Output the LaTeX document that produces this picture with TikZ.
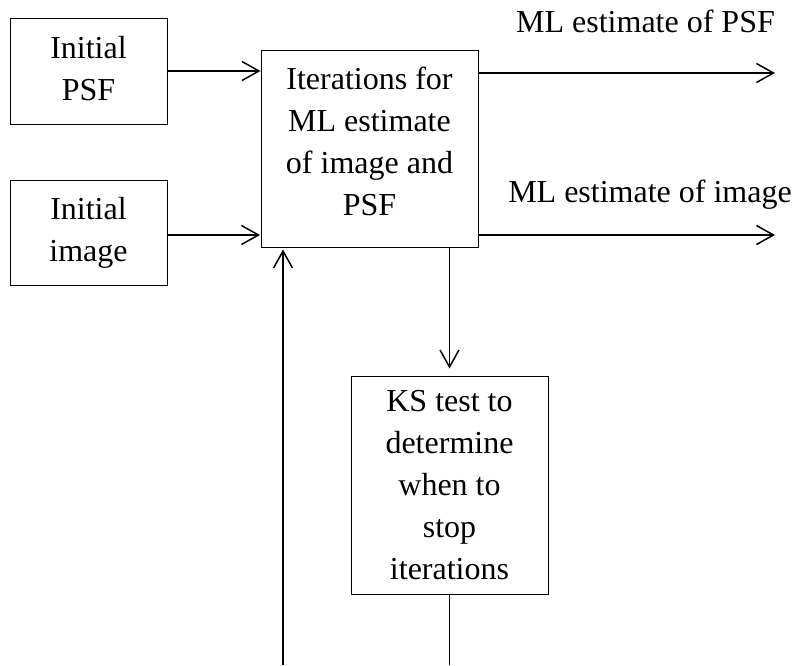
\documentclass[tikz,border=0pt]{standalone}
\usepackage{fontspec}
\setmainfont{Liberation Serif}
\usetikzlibrary{arrows.meta}
\begin{document}
\begin{tikzpicture}[x=1pt,y=-1pt,
  blk/.style={draw, line width=1pt, align=center, inner sep=0pt,
              font=\fontsize{32}{42}\selectfont},
  lbl/.style={inner sep=0pt, anchor=base, font=\fontsize{32}{42}\selectfont},
  flow/.style={line width=1.6pt,
               -{Straight Barb[length=17pt,width=19pt,line width=1.5pt]}},
  wire/.style={line width=1.6pt}]
\useasboundingbox (0,0) rectangle (803,665);

% blocks (text depth lifts the text a little above the box centre)
\node[blk, minimum width=157pt, minimum height=106pt, text depth=5pt] (psf) at (88.5,71) {Initial\\PSF};
\node[blk, minimum width=157pt, minimum height=105pt] (img) at (88.5,232.5) {Initial\\image};
\node[blk, minimum width=217pt, minimum height=197pt, text depth=15pt] (iter) at (369.5,148.5)
  {Iterations for\\ML estimate\\of image and\\PSF};
\node[blk, minimum width=197pt, minimum height=218pt] (ks) at (449.5,485)
  {KS test to\\determine\\when to\\stop\\iterations};

% output labels
\node[lbl] (lpsf) at (645.5,32) {ML estimate of PSF};
\node[lbl] (limg) at (650,202) {ML estimate of image};

% free ends
\coordinate (inimg) at (260,235);
\coordinate (outpsf) at (775,73);
\coordinate (outimg) at (775,235);
\coordinate (fbin) at (283,665);
\coordinate (fbout) at (449.5,665);

% connectors
\draw[flow] (psf.east) -- (psf.east -| iter.west);
\draw[flow] (img.east |- inimg) -- (inimg);
\draw[flow] (iter.east |- outpsf) -- (outpsf);
\draw[flow] (iter.east |- outimg) -- (outimg);
\draw[flow, shorten >=7pt] (ks.north |- iter.south) -- (ks.north);
\draw[wire] (ks.south) -- (fbout);
\draw[flow, shorten >=2pt] (fbin) -- (fbin |- iter.south);
\end{tikzpicture}
\end{document}
